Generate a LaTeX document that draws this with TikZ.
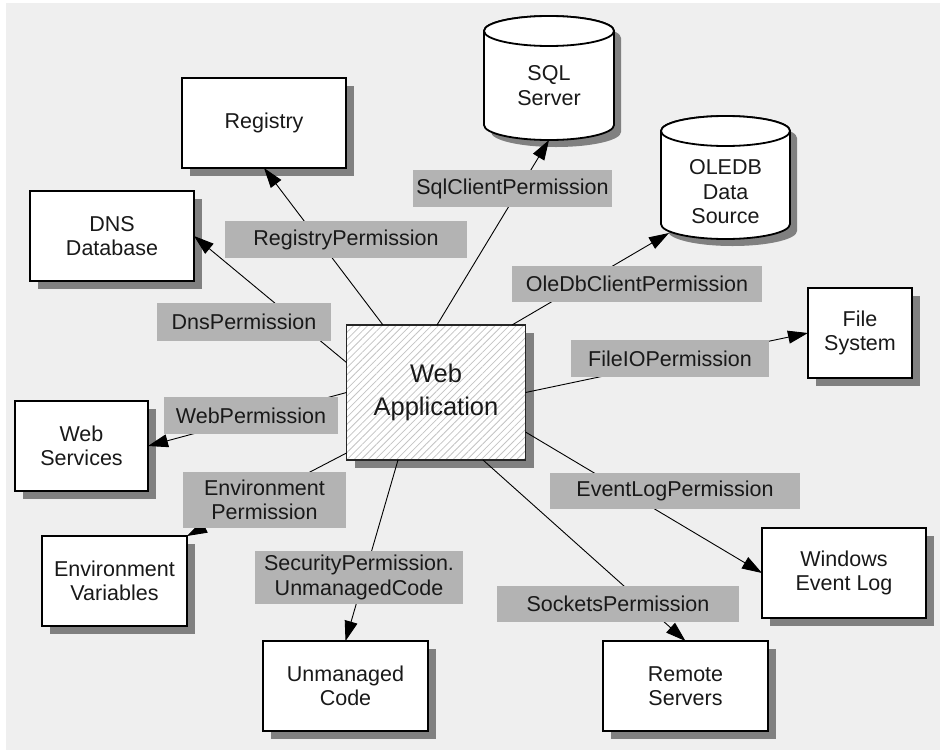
\documentclass[tikz,border=0pt]{standalone}
\usepackage{fontspec}
\setmainfont{Liberation Sans}
\usetikzlibrary{arrows.meta,shadows,patterns.meta}
\definecolor{bgc}{HTML}{EFEFEF}
\definecolor{lblc}{HTML}{B3B3B3}
\definecolor{shc}{HTML}{808080}
\definecolor{hatchc}{HTML}{C4C4C4}
\newcommand\drawcyl[4]{% #1 cx, #2 ytop, #3 ybot, #4 rx
  \fill[shc] ({#1-#4+7},{#2+7}) -- ({#1-#4+7},{#3+7}) arc[start angle=180,end angle=0,x radius=#4,y radius=15] -- ({#1+#4+7},{#2+7}) arc[start angle=0,end angle=-180,x radius=#4,y radius=15] -- cycle;
  \draw[cylst] ({#1-#4},#2) -- ({#1-#4},#3) arc[start angle=180,end angle=0,x radius=#4,y radius=15] -- ({#1+#4},#2) arc[start angle=0,end angle=-180,x radius=#4,y radius=15] -- cycle;
  \draw[cylst] (#1,#2) ellipse[x radius=#4,y radius=15];
}
\begin{document}
\begin{tikzpicture}[x=1pt,y=-1pt,
  every node/.style={inner sep=0pt, outer sep=0pt, align=center, text=black!90,
    font=\fontsize{21.5}{24.5}\selectfont},
  res/.style={draw=black, line width=1.2pt, fill=white,
    general shadow={fill=shc, shadow xshift=8pt, shadow yshift=-8pt}},
  cylst/.style={draw=black, line width=1.8pt, fill=white},
  lbl/.style={fill=lblc},
  conn/.style={line width=0.9pt, -{Triangle[length=20pt,width=13pt]}},
]
\useasboundingbox (0,0) rectangle (940,750);
\fill[bgc] (6,3) rectangle (940,750);

% resources
\node[res, minimum width=164pt, minimum height=90pt] (reg) at (264,123) {Registry};
\node[res, minimum width=164pt, minimum height=90pt] (dns) at (112,236) {DNS\\Database};
\node[res, minimum width=133pt, minimum height=90pt] (ws) at (81.5,446) {Web\\Services};
\node[res, minimum width=145pt, minimum height=90pt] (env) at (114.5,581) {Environment\\Variables};
\node[res, minimum width=165pt, minimum height=90pt] (um) at (345.5,686) {Unmanaged\\Code};
\node[res, minimum width=165pt, minimum height=90pt] (rs) at (685.5,686) {Remote\\Servers};
\node[res, minimum width=164pt, minimum height=90pt] (el) at (844,573) {Windows\\Event Log};
\node[res, minimum width=104pt, minimum height=90pt] (fs) at (860,333) {File\\System};

% cylinders
\drawcyl{549}{31}{125}{65}
\node[minimum width=130pt, minimum height=109pt] (sql) at (549,85.5) {SQL\\Server};
\drawcyl{725.5}{131}{224}{64.5}
\node[minimum width=129pt, minimum height=94pt] (ole) at (725.5,192) {OLEDB\\Data\\Source};
\coordinate (oleT) at ([xshift=8pt,yshift=6pt]ole.south west);

% central application
\node[draw=black!85, line width=1.2pt, minimum width=179pt, minimum height=135pt,
  general shadow={fill=shc, shadow xshift=8pt, shadow yshift=-8pt},
  preaction={fill=white},
  pattern={Lines[angle=45,distance=5pt,line width=0.8pt]}, pattern color=hatchc,
  font=\fontsize{25.5}{32.5}\selectfont] (web) at (436,392.5) {\raisebox{-3pt}{\begin{tabular}{@{}c@{}}Web\\[0.5pt]Application\end{tabular}}};

% connectors
\draw[conn] ([xshift=-53pt]web.north) -- (reg.south);
\draw[conn] ([xshift=1pt]web.north) -- (sql.south);
\draw[conn] ([xshift=76pt]web.north) -- (oleT);
\draw[conn] ([yshift=30pt]web.west) -- (dns.east);
\draw[conn] (web.west) -- (ws.east);
\draw[conn] ([yshift=-60.5pt]web.west) -- (env.north east);
\draw[conn] ([xshift=-38pt]web.south) -- (um.north);
\draw[conn] ([xshift=47pt]web.south) -- (rs.north);
\draw[conn] (web.east) -- (fs.west);
\draw[conn] ([yshift=-39.5pt]web.east) -- (el.west);

% labels
\node[lbl, minimum width=199pt, minimum height=37pt] (sqlL) at (512.5,188.5) {SqlClientPermission};
\node[lbl, minimum width=242pt, minimum height=37pt] (regL) at (346,239.5) {RegistryPermission};
\node[lbl, minimum width=250pt, minimum height=36pt] (oleL) at (637,284) {OleDbClientPermission};
\node[lbl, minimum width=174pt, minimum height=38pt] (dnsL) at (244,322) {DnsPermission};
\node[lbl, minimum width=198pt, minimum height=37pt] (fioL) at (670,358.5) {FileIOPermission};
\node[lbl, minimum width=174pt, minimum height=37pt] (webL) at (251,415.5) {WebPermission};
\node[lbl, minimum width=163pt, minimum height=56pt] (envL) at (264.5,500) {Environment\\Permission};
\node[lbl, minimum width=250pt, minimum height=36pt] (evL) at (675,491) {EventLogPermission};
\node[lbl, minimum width=208pt, minimum height=53pt] (secL) at (359,577.5) {SecurityPermission.\\UnmanagedCode};
\node[lbl, minimum width=242pt, minimum height=36pt] (sockL) at (618,604) {SocketsPermission};
\end{tikzpicture}
\end{document}
